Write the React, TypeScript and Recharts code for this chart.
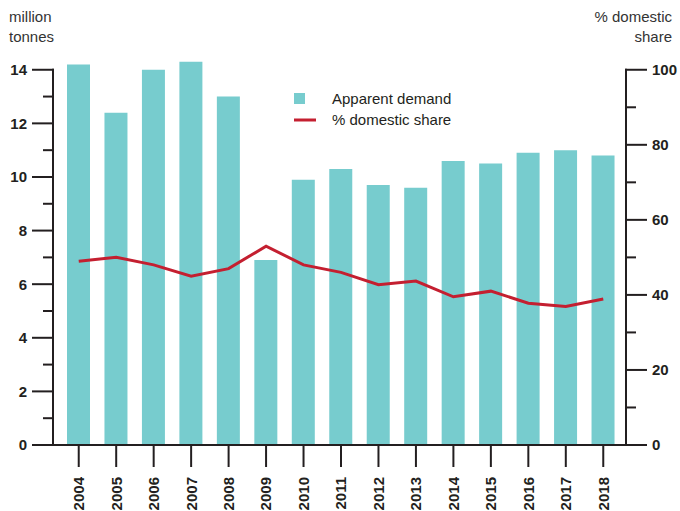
import React from "react";
import { ComposedChart, Bar, Line, XAxis, YAxis, Legend } from "recharts";

const years = [
  "2004", "2005", "2006", "2007", "2008", "2009", "2010", "2011",
  "2012", "2013", "2014", "2015", "2016", "2017", "2018",
];
// million tonnes
const apparentDemand = [14.2, 12.4, 14.0, 14.3, 13.0, 6.9, 9.9, 10.3, 9.7, 9.6, 10.6, 10.5, 10.9, 11.0, 10.8];
// % domestic share
const domesticShare = [49, 50, 48, 45, 47, 53, 48, 46, 42.7, 43.7, 39.5, 41, 37.8, 36.9, 38.9];

const leftTicks = [0, 1, 2, 3, 4, 5, 6, 7, 8, 9, 10, 11, 12, 13, 14];
const rightTicks = [0, 10, 20, 30, 40, 50, 60, 70, 80, 90, 100];

// a little headroom above the top tick so the tallest bars are not cut
const HEADROOM = 1.05;
const leftMax = 14;
const rightMax = 100;
const leftDomainMax = leftMax * HEADROOM;
const rightDomainMax = rightMax * HEADROOM;

const TEAL = "#77CCCE";
const RED = "#C41F30";
const INK = "#231F20";
const FONT = "'Liberation Sans', Arial, Helvetica, sans-serif";

const MAJOR = 21;
const MINOR = 10;
const GAP = 5;

const data = years.map((year, i) => ({
  year,
  demand: apparentDemand[i],
  share: domesticShare[i],
}));

// the axis line is drawn piece by piece from each tick down to the one below,
// so it stops at the top tick instead of running into the headroom
const LeftTick = (props: any) => {
  const { x, y, payload, height } = props;
  const major = payload.value % 2 === 0;
  const axisX = x + MAJOR + GAP;
  const step = (Number(height) / leftDomainMax) * 1;
  return (
    <g>
      {payload.value > 0 && <line x1={axisX} x2={axisX} y1={y - 1} y2={y + step} stroke={INK} strokeWidth={2} />}
      <line x1={axisX - (major ? MAJOR : MINOR)} x2={axisX + 1} y1={y} y2={y} stroke={INK} strokeWidth={2} />
      {major && (
        <text x={x} y={y} dy="0.36em" textAnchor="end" fontFamily={FONT} fontWeight="bold" fontSize={15} fill={INK}>
          {payload.value}
        </text>
      )}
    </g>
  );
};

const RightTick = (props: any) => {
  const { x, y, payload, height } = props;
  const major = payload.value % 20 === 0;
  const axisX = x - MAJOR - GAP;
  const step = (Number(height) / rightDomainMax) * 10;
  return (
    <g>
      {payload.value > 0 && <line x1={axisX} x2={axisX} y1={y - 1} y2={y + step} stroke={INK} strokeWidth={2} />}
      <line x1={axisX - 1} x2={axisX + (major ? MAJOR : MINOR)} y1={y} y2={y} stroke={INK} strokeWidth={2} />
      {major && (
        <text x={x} y={y} dy="0.36em" textAnchor="start" fontFamily={FONT} fontWeight="bold" fontSize={15} fill={INK}>
          {payload.value}
        </text>
      )}
    </g>
  );
};

const YearTick = (props: any) => {
  const { x, y, payload } = props;
  return (
    <text
      x={x}
      y={y}
      dy="0.36em"
      textAnchor="end"
      transform={`rotate(-90, ${x}, ${y})`}
      fontFamily={FONT}
      fontWeight="bold"
      fontSize={15}
      fill={INK}
    >
      {payload.value}
    </text>
  );
};

const LegendBox = () => (
  <svg width={180} height={44} style={{ display: "block" }}>
    <rect x={0} y={5} width={11} height={11} fill={TEAL} />
    <text x={38} y={16} fontFamily={FONT} fontSize={15} fill={INK}>
      Apparent demand
    </text>
    <line x1={0} x2={22} y1={32} y2={32} stroke={RED} strokeWidth={3} />
    <text x={38} y={37} fontFamily={FONT} fontSize={15} fill={INK}>
      % domestic share
    </text>
  </svg>
);

const titleStyle: React.CSSProperties = {
  position: "absolute",
  top: 7,
  fontFamily: FONT,
  fontSize: 15,
  lineHeight: "20px",
  color: "#333",
};

export default function App() {
  return (
    <div style={{ position: "absolute", left: 0, top: 0, width: 680, height: 511, background: "#fff" }}>
      <div style={{ ...titleStyle, left: 9 }}>
        million
        <br />
        tonnes
      </div>
      <div style={{ ...titleStyle, right: 8, textAlign: "right" }}>
        % domestic
        <br />
        share
      </div>
      <ComposedChart width={680} height={511} data={data} margin={{ top: 51, right: 0, bottom: 0, left: 0 }}>
        <XAxis
          dataKey="year"
          interval={0}
          height={66}
          padding={{ left: 7, right: 4 }}
          tickSize={22}
          tickMargin={10}
          axisLine={{ stroke: INK, strokeWidth: 2 }}
          tickLine={{ stroke: INK, strokeWidth: 2 }}
          tick={<YearTick />}
        />
        <YAxis
          yAxisId="left"
          orientation="left"
          width={53}
          domain={[0, leftDomainMax]}
          ticks={leftTicks}
          interval={0}
          tickSize={MAJOR}
          tickMargin={GAP}
          tickLine={false}
          axisLine={false}
          tick={<LeftTick />}
        />
        <YAxis
          yAxisId="right"
          orientation="right"
          width={54}
          domain={[0, rightDomainMax]}
          ticks={rightTicks}
          interval={0}
          tickSize={MAJOR}
          tickMargin={GAP}
          tickLine={false}
          axisLine={false}
          tick={<RightTick />}
        />
        <Legend
          layout="horizontal"
          verticalAlign="middle"
          align="center"
          wrapperStyle={{ top: 88, left: 294, width: 180 }}
          content={<LegendBox />}
        />
        <Bar yAxisId="left" dataKey="demand" name="Apparent demand" fill={TEAL} barSize={23} isAnimationActive={false} />
        <Line
          yAxisId="right"
          dataKey="share"
          name="% domestic share"
          type="linear"
          stroke={RED}
          strokeWidth={3}
          dot={false}
          activeDot={false}
          isAnimationActive={false}
        />
      </ComposedChart>
    </div>
  );
}
